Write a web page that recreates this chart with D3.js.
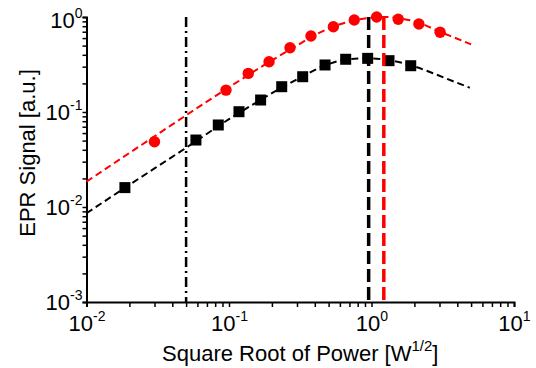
<!DOCTYPE html>
<html>
<head>
<meta charset="utf-8">
<script src="https://cdn.jsdelivr.net/npm/d3@7"></script>
<style>
  body { margin: 0; background: #fff; }
  text { font-family: "Liberation Sans", Arial, sans-serif; fill: #000; }
</style>
</head>
<body>
<script>
// measured points (square root of power in W^1/2, signal in a.u.)
const redX = [0.030, 0.0953, 0.1365, 0.191, 0.268, 0.376, 0.540, 0.757, 1.087, 1.54, 2.15, 3.03];
const redY = [0.0487, 0.170, 0.255, 0.338, 0.475, 0.631, 0.79, 0.93, 1.0, 0.946, 0.844, 0.69];

const blackX = [0.0186, 0.0586, 0.0841, 0.1175, 0.1667, 0.2344, 0.329, 0.472, 0.659, 0.94, 1.327, 1.885];
const blackY = [0.0160, 0.0507, 0.0730, 0.1007, 0.1337, 0.1846, 0.2352, 0.3126, 0.359, 0.367, 0.347, 0.307];

// fitted saturation curves
const redFitX = [0.01, 0.03, 0.1, 0.2, 0.3, 0.4, 0.55, 0.75, 1.0, 1.25, 1.6, 2.2, 3.0, 4.0, 5.0];
const redFitY = [0.0185, 0.0555, 0.182, 0.35, 0.50, 0.645, 0.80, 0.92, 0.985, 1.0, 0.965, 0.86, 0.70, 0.59, 0.515];

const blackFitX = [0.01, 0.03, 0.05, 0.1, 0.15, 0.2, 0.3, 0.45, 0.65, 0.95, 1.3, 1.9, 2.7, 3.7, 4.9];
const blackFitY = [0.0086, 0.0255, 0.042, 0.084, 0.122, 0.158, 0.22, 0.30, 0.355, 0.368, 0.352, 0.31, 0.256, 0.212, 0.18];

// vertical markers
const dashDotX = 0.05;
const blackPeakX = 0.955;
const redPeakX = 1.22;

// tick labels (exponents of 10)
const xTickExp = [-2, -1, 0, 1];
const yTickExp = [-3, -2, -1, 0];

const width = 536, height = 368;
const margin = {left: 86.5, right: 22, top: 17, bottom: 66};

const svg = d3.select("body").append("svg")
    .attr("width", width)
    .attr("height", height);

const x = d3.scaleLog()
    .domain([1e-2, 1e1])
    .range([margin.left, width - margin.right]);

const y = d3.scaleLog()
    .domain([1e-3, 1e0])
    .range([height - margin.bottom, margin.top]);

// all decade ticks incl. minor ones
function logTicks(lo, hi) {
  const t = [];
  for (let e = lo; e < hi; e++) {
    for (let m = 1; m < 10; m++) t.push(m * Math.pow(10, e));
  }
  t.push(Math.pow(10, hi));
  return t;
}
const isMajor = v => Math.abs(Math.log10(v) - Math.round(Math.log10(v))) < 1e-9;

function supLabel(sel, exps) {
  sel.each(function(d) {
    const t = d3.select(this);
    t.text(null);
    if (!isMajor(d)) return;
    t.append("tspan").text("10");
    t.append("tspan")
        .attr("dy", -10)
        .style("font-size", "14px")
        .text(String(Math.round(Math.log10(d))));
  });
}

// x axis
const gx = svg.append("g")
    .attr("transform", `translate(0,${y(1e-3)})`)
    .call(d3.axisBottom(x)
        .tickValues(logTicks(-2, 1))
        .tickSizeOuter(0)
        .tickSize(5));
gx.select(".domain").attr("stroke-width", 2);
gx.selectAll(".tick line").attr("stroke-width", 1.5);
gx.selectAll(".tick text")
    .attr("y", 29)
    .attr("dy", null)
    .style("font-size", "22px")
    .call(supLabel, xTickExp);

// y axis
const gy = svg.append("g")
    .attr("transform", `translate(${x(1e-2)},0)`)
    .call(d3.axisLeft(y)
        .tickValues(logTicks(-3, 0))
        .tickSizeOuter(0)
        .tickSize(4));
gy.select(".domain").attr("stroke-width", 2);
gy.selectAll(".tick line").attr("stroke-width", 1.5);
gy.selectAll(".tick text")
    .attr("x", -4)
    .attr("dy", "0.35em")
    .attr("y", d => d === 1 ? 3 : 0)   // top label sits a little lower
    .style("font-size", "22px")
    .call(supLabel, yTickExp);
svg.selectAll(".tick text, .domain").attr("font-size", null);

// axis titles
const xt = svg.append("text")
    .attr("x", (x.range()[0] + x.range()[1]) / 2)
    .attr("y", 361)
    .attr("text-anchor", "middle")
    .style("font-size", "22px");
xt.append("tspan").text("Square Root of Power [W");
xt.append("tspan").attr("dy", -10).style("font-size", "15px").text("1/2");
xt.append("tspan").attr("dy", 10).text("]");

svg.append("text")
    .attr("transform", "translate(35,153) rotate(-90)")
    .attr("text-anchor", "middle")
    .style("font-size", "22px")
    .text("EPR Signal [a.u.]");

// fit curves
const line = d3.line()
    .x(d => x(d[0]))
    .y(d => y(d[1]))
    .curve(d3.curveMonotoneX);

svg.append("path")
    .datum(d3.zip(blackFitX, blackFitY))
    .attr("d", line)
    .attr("fill", "none")
    .attr("stroke", "#000")
    .attr("stroke-width", 2)
    .attr("stroke-dasharray", "7,4");

svg.append("path")
    .datum(d3.zip(redFitX, redFitY))
    .attr("d", line)
    .attr("fill", "none")
    .attr("stroke", "#ff0000")
    .attr("stroke-width", 2)
    .attr("stroke-dasharray", "7,4");

// markers
const sq = 11;
svg.append("g").selectAll("rect")
    .data(d3.zip(blackX, blackY))
    .join("rect")
    .attr("x", d => x(d[0]) - sq / 2)
    .attr("y", d => y(d[1]) - sq / 2)
    .attr("width", sq)
    .attr("height", sq)
    .attr("fill", "#000");

svg.append("g").selectAll("circle")
    .data(d3.zip(redX, redY))
    .join("circle")
    .attr("cx", d => x(d[0]))
    .attr("cy", d => y(d[1]))
    .attr("r", 5.7)
    .attr("fill", "#ff0000");

// vertical lines
function vline(v, color, w, dash) {
  svg.append("line")
      .attr("x1", x(v)).attr("x2", x(v))
      .attr("y1", y(1e0)).attr("y2", y(1e-3))
      .attr("stroke", color)
      .attr("stroke-width", w)
      .attr("stroke-dasharray", dash);
}
vline(dashDotX, "#000", 2.5, "10,4,2,4");
vline(blackPeakX, "#000", 3.5, "13,5");
vline(redPeakX, "#ff0000", 3.5, "13,5");
</script>
</body>
</html>
